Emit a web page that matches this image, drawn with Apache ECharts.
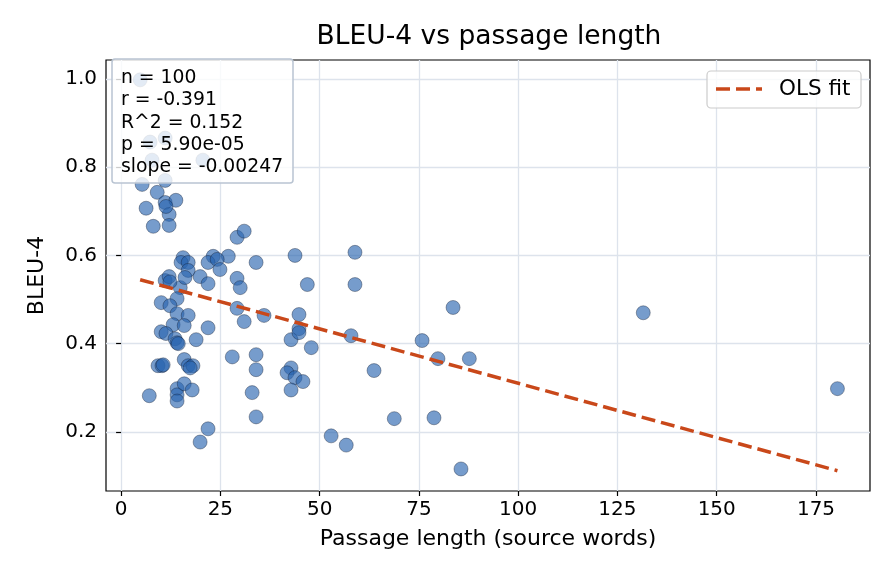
<!DOCTYPE html>
<html>
<head>
<meta charset="utf-8">
<script src="https://cdn.jsdelivr.net/npm/echarts@6.0.0/dist/echarts.min.js"></script>
<style>
  html, body { margin: 0; padding: 0; background: #fff; }
  #chart { width: 896px; height: 584px; }
</style>
</head>
<body>
<div id="chart"></div>
<script>
// passage length (source words) per item
const xVals = [
  4.8, 11.1, 7.3, 7.8, 20.6, 5.3, 11.1, 9.1, 11.1, 13.8,
  6.3, 12.1, 8.1, 12.1, 29.2, 31.0, 15.6, 15.1, 16.9, 23.2,
  27.0, 21.9, 24.2, 24.9, 16.9, 34.0, 43.8, 19.9, 21.9, 29.2,
  30.0, 11.1, 12.1, 14.9, 16.1, 14.1, 10.1, 12.3, 14.1, 16.9,
  13.1, 15.9, 10.1, 11.3, 13.6, 14.1, 18.9, 21.9, 29.2, 31.0,
  36.0, 44.8, 44.8, 42.8, 46.9, 47.9, 9.3, 10.3, 15.9, 16.9,
  18.1, 28.0, 34.0, 34.0, 42.8, 41.8, 43.8, 45.8, 7.1, 14.1,
  14.1, 14.1, 15.9, 17.9, 33.0, 42.8, 34.0, 21.9, 19.9, 52.9,
  56.7, 58.9, 58.9, 57.9, 75.8, 83.6, 79.8, 87.7, 63.7, 68.8,
  78.8, 85.6, 131.5, 180.4, 14.4, 10.6, 44.8, 12.3, 11.3, 17.4
];
// BLEU-4 per item
const yVals = [
  0.998, 0.866, 0.857, 0.816, 0.816, 0.761, 0.770, 0.743, 0.720, 0.725,
  0.707, 0.693, 0.666, 0.668, 0.641, 0.655, 0.595, 0.584, 0.584, 0.598,
  0.598, 0.584, 0.591, 0.568, 0.566, 0.584, 0.600, 0.552, 0.536, 0.548,
  0.527, 0.543, 0.552, 0.527, 0.550, 0.502, 0.493, 0.486, 0.468, 0.464,
  0.443, 0.441, 0.427, 0.423, 0.411, 0.402, 0.409, 0.436, 0.480, 0.450,
  0.464, 0.466, 0.434, 0.409, 0.534, 0.391, 0.350, 0.350, 0.364, 0.350,
  0.350, 0.370, 0.375, 0.341, 0.345, 0.334, 0.323, 0.314, 0.282, 0.298,
  0.284, 0.270, 0.309, 0.295, 0.289, 0.295, 0.234, 0.207, 0.177, 0.191,
  0.170, 0.607, 0.534, 0.418, 0.407, 0.482, 0.366, 0.366, 0.339, 0.230,
  0.232, 0.116, 0.470, 0.298, 0.400, 0.352, 0.425, 0.540, 0.711, 0.345
];
// OLS fit line end points
const fitX = [4.8, 180.4];
const fitY = [0.545, 0.112];

const xTicks = [0, 25, 50, 75, 100, 125, 150, 175];
const yTicks = [0.2, 0.4, 0.6, 0.8, 1.0];

const statLines = [
  "n = 100",
  "r = -0.391",
  "R^2 = 0.152",
  "p = 5.90e-05",
  "slope = -0.00247"
];

const FONT = "DejaVu Sans";
const gridCol = "#dde3ec";
const fitCol = "#c9481a";

const chart = echarts.init(document.getElementById("chart"), null, { renderer: "canvas" });

const option = {
  animation: false,
  backgroundColor: "#fff",
  textStyle: { fontFamily: FONT },
  grid: {
    left: 106, right: 26, top: 60, bottom: 93,
    show: true, borderColor: "#000", borderWidth: 1.2
  },
  xAxis: {
    type: "value",
    min: -3.8, max: 188.6,
    name: "Passage length (source words)",
    nameLocation: "middle",
    nameGap: 37,
    nameTextStyle: { fontSize: 22, color: "#000", fontFamily: FONT },
    axisLine: { show: false },
    axisTick: { show: true, inside: false, length: 5, customValues: xTicks, lineStyle: { color: "#000", width: 1.2 } },
    axisLabel: { customValues: xTicks, fontSize: 20, color: "#000", margin: 9, fontFamily: FONT },
    splitLine: { show: true, lineStyle: { color: gridCol, width: 1.3 } }
  },
  yAxis: {
    type: "value",
    min: 0.066, max: 1.043,
    name: "BLEU-4",
    nameLocation: "middle",
    nameRotate: 90,
    nameGap: 58,
    nameTextStyle: { fontSize: 22, color: "#000", fontFamily: FONT },
    axisLine: { show: false },
    axisTick: { show: true, inside: false, length: 5, customValues: yTicks, lineStyle: { color: "#000", width: 1.2 } },
    axisLabel: {
      customValues: yTicks, fontSize: 20, color: "#000", margin: 9, fontFamily: FONT,
      formatter: (v) => v.toFixed(1)
    },
    splitLine: { show: true, lineStyle: { color: gridCol, width: 1.3 } }
  },
  series: [
    {
      type: "scatter",
      name: "points",
      data: xVals.map((x, i) => [x, yVals[i]]),
      symbolSize: 14,
      itemStyle: {
        color: "rgba(40,100,175,0.8)",
        borderColor: "rgba(10,20,40,0.75)",
        borderWidth: 0.6
      },
      z: 2
    },
    {
      type: "line",
      name: "OLS fit",
      data: fitX.map((x, i) => [x, fitY[i]]),
      symbol: "none",
      lineStyle: { color: fitCol, width: 3.5, type: [14, 6] },
      z: 3
    }
  ],
  graphic: [
    {
      type: "text",
      x: 489, y: 37, zlevel: 1,
      style: {
        text: "BLEU-4 vs passage length",
        fontSize: 26.5, fontFamily: FONT, fill: "#000",
        textAlign: "center", textVerticalAlign: "middle"
      }
    },
    // stats box
    {
      type: "rect", zlevel: 1,
      shape: { x: 112, y: 59, width: 181, height: 124, r: 3 },
      style: { fill: "rgba(255,255,255,0.8)", stroke: "#b9c4d2", lineWidth: 1.5 }
    },
    {
      type: "text", zlevel: 1, z: 2,
      x: 121, y: 67,
      style: {
        text: statLines.join("\n"),
        fontSize: 18.8, fontFamily: FONT, fill: "#000",
        lineHeight: 22.3
      }
    },
    // legend
    {
      type: "rect", zlevel: 1,
      shape: { x: 707, y: 71, width: 154, height: 37, r: 4 },
      style: { fill: "rgba(255,255,255,0.8)", stroke: "#cccccc", lineWidth: 1.2 }
    },
    {
      type: "line", zlevel: 1, z: 2,
      shape: { x1: 716, y1: 89, x2: 762, y2: 89 },
      style: { stroke: fitCol, lineWidth: 3.5, lineDash: [14, 6] }
    },
    {
      type: "text", zlevel: 1, z: 2,
      x: 779, y: 89,
      style: {
        text: "OLS fit",
        fontSize: 21.5, fontFamily: FONT, fill: "#000",
        textVerticalAlign: "middle"
      }
    }
  ]
};

chart.setOption(option);
</script>
</body>
</html>
